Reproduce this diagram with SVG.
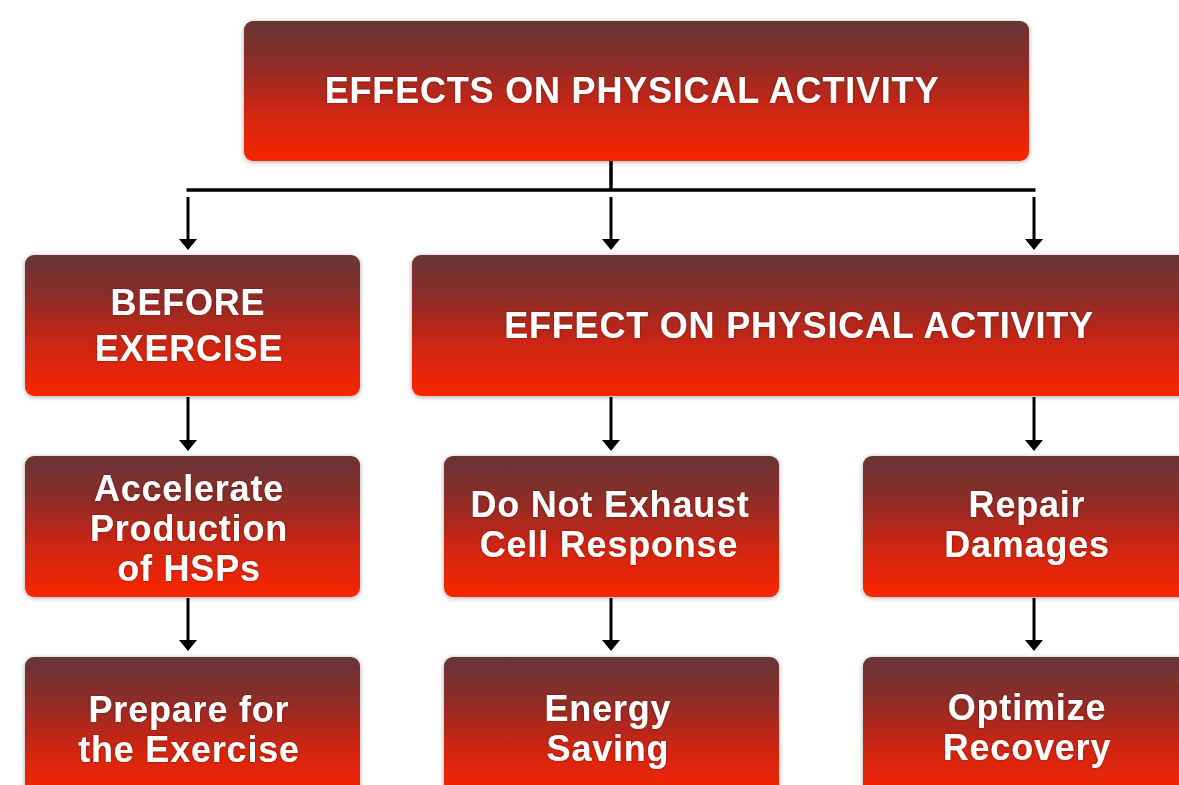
<svg xmlns="http://www.w3.org/2000/svg" width="1179" height="785" viewBox="0 0 1179 785">
<style>
.box{fill:url(#g);filter:url(#sh)}
.t{font-family:"Liberation Sans",Arial,sans-serif;font-weight:bold;font-size:36px;letter-spacing:0.8px;fill:#fff;text-anchor:middle;filter:url(#ts)}
.c{stroke:#000;stroke-width:3.5;fill:none}
</style>
<defs>
<linearGradient id="g" x1="0" y1="0" x2="0" y2="1">
<stop offset="0" stop-color="#683535"/>
<stop offset="0.3" stop-color="#8c2d28"/>
<stop offset="0.65" stop-color="#d02512"/>
<stop offset="1" stop-color="#f82600"/>
</linearGradient>
<filter id="sh" x="-10%" y="-10%" width="120%" height="130%">
<feDropShadow dx="0" dy="1" stdDeviation="2.5" flood-color="#000" flood-opacity="0.35"/>
</filter>
<filter id="ts" x="-5%" y="-20%" width="110%" height="140%">
<feDropShadow dx="0" dy="0" stdDeviation="1" flood-color="#400" flood-opacity="0.6"/>
</filter>
</defs>
<rect width="1179" height="785" fill="#fff"/>
<g id="connectors">
<path class="c" d="M611 161 V190 M186.5 190 H1035.5"/>
<path d="M188 197 V240 M611 197 V240 M1034 197 V240 M188 397 V441 M611 397 V441 M1034 397 V441 M188 598 V641 M611 598 V641 M1034 598 V641" stroke="#000" stroke-width="3" fill="none"/>
<g fill="#000">
<path d="M179 239 H197 L188 250 Z"/>
<path d="M602 239 H620 L611 250 Z"/>
<path d="M1025 239 H1043 L1034 250 Z"/>
<path d="M179 440 H197 L188 451 Z"/>
<path d="M602 440 H620 L611 451 Z"/>
<path d="M1025 440 H1043 L1034 451 Z"/>
<path d="M179 640 H197 L188 651 Z"/>
<path d="M602 640 H620 L611 651 Z"/>
<path d="M1025 640 H1043 L1034 651 Z"/>
</g>
</g>
<g id="n-top"><rect class="box" x="244" y="21" width="785" height="140" rx="9"/><text class="t" x="632" y="103">EFFECTS ON PHYSICAL ACTIVITY</text></g>
<g id="n-before"><rect class="box" x="25" y="255" width="335" height="141" rx="9"/><text class="t" x="188" y="315">BEFORE</text><text class="t" x="189" y="361">EXERCISE</text></g>
<g id="n-effect"><rect class="box" x="412" y="255" width="790" height="141" rx="9"/><text class="t" x="799" y="338">EFFECT ON PHYSICAL ACTIVITY</text></g>
<g id="n-accel"><rect class="box" x="25" y="456" width="335" height="141" rx="9"/><text class="t" x="189" y="501">Accelerate</text><text class="t" x="189" y="541">Production</text><text class="t" x="189" y="581">of HSPs</text></g>
<g id="n-donot"><rect class="box" x="444" y="456" width="335" height="141" rx="9"/><text class="t" x="610" y="517">Do Not Exhaust</text><text class="t" x="609" y="557">Cell Response</text></g>
<g id="n-repair"><rect class="box" x="863" y="456" width="335" height="141" rx="9"/><text class="t" x="1027" y="517">Repair</text><text class="t" x="1027" y="557">Damages</text></g>
<g id="n-prepare"><rect class="box" x="25" y="657" width="335" height="141" rx="9"/><text class="t" x="189" y="722">Prepare for</text><text class="t" x="189" y="762">the Exercise</text></g>
<g id="n-energy"><rect class="box" x="444" y="657" width="335" height="141" rx="9"/><text class="t" x="608" y="721">Energy</text><text class="t" x="608" y="761">Saving</text></g>
<g id="n-optimize"><rect class="box" x="863" y="657" width="335" height="141" rx="9"/><text class="t" x="1027" y="720">Optimize</text><text class="t" x="1027" y="760">Recovery</text></g>
</svg>
